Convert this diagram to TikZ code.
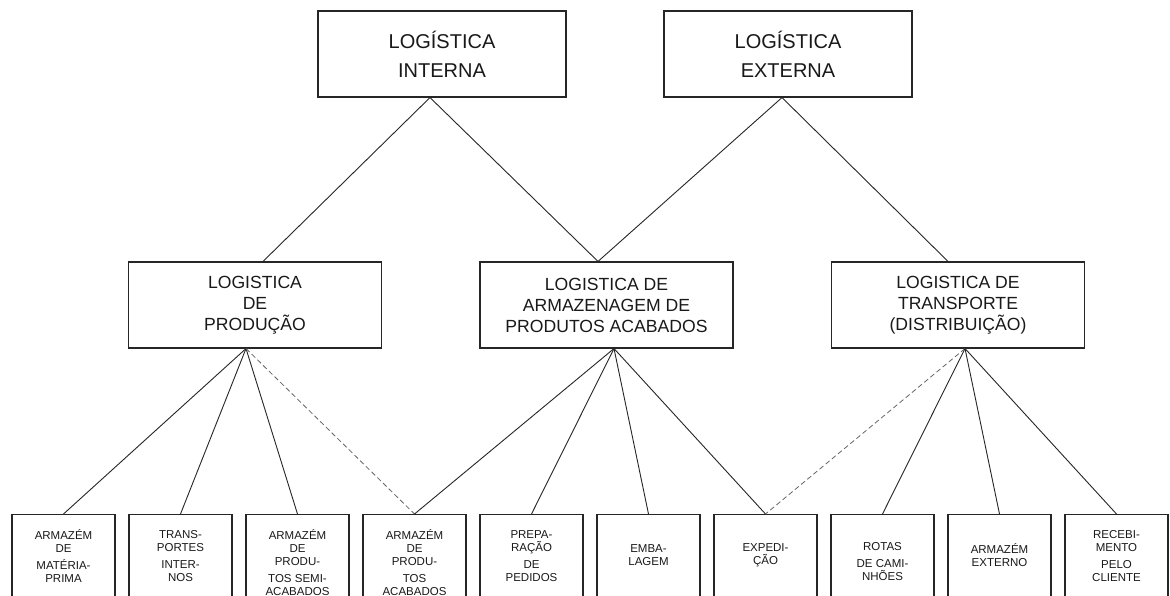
\documentclass[tikz,border=0pt]{standalone}
\usepackage{fontspec}
\setmainfont{Liberation Sans}
\begin{document}
\begin{tikzpicture}[x=1pt,y=-1pt,
  box/.style={draw=black!85, line width=1.1pt, rectangle, inner sep=0pt, align=center, text=black!90},
  topbox/.style={box, minimum width=248pt, minimum height=86pt, font=\fontsize{20}{29}\selectfont},
  midbox/.style={box, minimum width=253pt, minimum height=86pt, font=\fontsize{17.6}{21}\selectfont},
  lowbox/.style={box, minimum width=103pt, minimum height=96pt, anchor=north},
  lowtext/.style={inner sep=0pt, align=center, text=black!90, font=\fontsize{11.5}{13}\selectfont},
  link/.style={draw=black!85, line width=0.9pt},
  dlink/.style={draw=black!60, line width=0.8pt, dash pattern=on 5pt off 3pt}]
\fill[white] (0,0) rectangle (1170,596);
\useasboundingbox (0,0) rectangle (1170,596);
\clip (0,0) rectangle (1170,596);

% upper level
\node[topbox] (int) at (442,54) {LOGÍSTICA\\INTERNA};
\node[topbox] (ext) at (788,54) {LOGÍSTICA\\EXTERNA};

% middle level
\node[midbox] (prod)  at (255,305)   {LOGISTICA\\DE\\PRODUÇÃO};
\node[midbox] (arm)   at (606.5,305) {LOGISTICA DE\\ARMAZENAGEM DE\\PRODUTOS ACABADOS};
\node[midbox] (trans) at (958,305)   {LOGISTICA DE\\TRANSPORTE\\(DISTRIBUIÇÃO)};

% lower level boxes
\node[lowbox] (b1)  at (63.5,514)  {};
\node[lowbox] (b2)  at (180.5,514) {};
\node[lowbox] (b3)  at (297.5,514) {};
\node[lowbox] (b4)  at (414.5,514) {};
\node[lowbox] (b5)  at (531.5,514) {};
\node[lowbox] (b6)  at (648.5,514) {};
\node[lowbox] (b7)  at (765.5,514) {};
\node[lowbox] (b8)  at (882.5,514) {};
\node[lowbox] (b9)  at (999.5,514) {};
\node[lowbox] (b10) at (1116.5,514) {};

% lower level labels
\node[lowtext] (t1)  at (63.5,556)   {ARMAZÉM\\DE\\[4pt]MATÉRIA-\\PRIMA};
\node[lowtext] (t2)  at (180.5,556)  {TRANS-\\PORTES\\[4pt]INTER-\\NOS};
\node[lowtext] (t3)  at (297.5,563)  {ARMAZÉM\\DE\\PRODU-\\[4pt]TOS SEMI-\\ACABADOS};
\node[lowtext] (t4)  at (414.5,563)  {ARMAZÉM\\DE\\PRODU-\\[4pt]TOS\\ACABADOS};
\node[lowtext] (t5)  at (531.5,556)  {PREPA-\\RAÇÃO\\[4pt]DE\\PEDIDOS};
\node[lowtext] (t6)  at (648.5,555.5) {EMBA-\\LAGEM};
\node[lowtext] (t7)  at (765.5,555.5) {EXPEDI-\\ÇÃO};
\node[lowtext] (t8)  at (882.5,562)  {ROTAS\\[4pt]DE CAMI-\\NHÕES};
\node[lowtext] (t9)  at (999.5,555.5) {ARMAZÉM\\EXTERNO};
\node[lowtext] (t10) at (1116.5,556) {RECEBI-\\MENTO\\[4pt]PELO\\CLIENTE};

% upper to middle connectors
\draw[link] ([xshift=-12pt]int.south) -- ([xshift=8pt]prod.north);
\draw[link] ([xshift=-12pt]int.south) -- ([xshift=-8.5pt]arm.north);
\draw[link] ([xshift=-6pt]ext.south) -- ([xshift=-8.5pt]arm.north);
\draw[link] ([xshift=-6pt]ext.south) -- ([xshift=-10pt]trans.north);

% middle to lower connectors
\draw[link] ([xshift=-9pt]prod.south) -- (b1.north);
\draw[link] ([xshift=-9pt]prod.south) -- (b2.north);
\draw[link] ([xshift=-9pt]prod.south) -- (b3.north);
\draw[dlink] ([xshift=-9pt]prod.south) -- (b4.north);

\draw[link] ([xshift=7.5pt]arm.south) -- (b4.north);
\draw[link] ([xshift=7.5pt]arm.south) -- (b5.north);
\draw[link] ([xshift=7.5pt]arm.south) -- (b6.north);
\draw[link] ([xshift=7.5pt]arm.south) -- (b7.north);

\draw[dlink] ([xshift=7pt]trans.south) -- (b7.north);
\draw[link] ([xshift=7pt]trans.south) -- (b8.north);
\draw[link] ([xshift=7pt]trans.south) -- (b9.north);
\draw[link] ([xshift=7pt]trans.south) -- (b10.north);
\end{tikzpicture}
\end{document}
